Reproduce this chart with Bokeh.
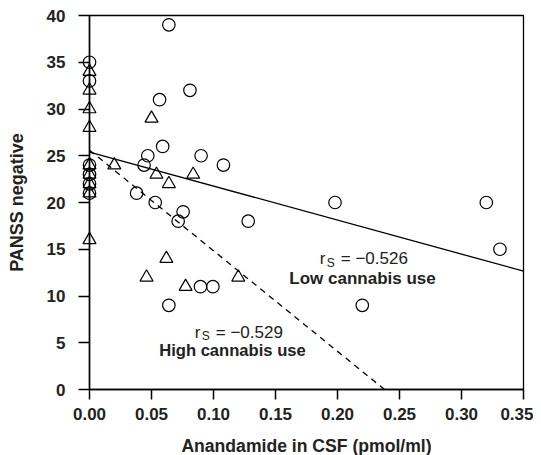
from bokeh.plotting import figure
from bokeh.models import FixedTicker, Label
from bokeh.embed import file_html
from bokeh.resources import INLINE

# Low cannabis use (circles)
low_x = [0.0, 0.0, 0.0, 0.0, 0.0, 0.0,
         0.064, 0.0565, 0.081, 0.059, 0.047, 0.044, 0.090, 0.108,
         0.038, 0.053, 0.0755, 0.0715, 0.128, 0.198, 0.320, 0.331,
         0.220, 0.064, 0.0895, 0.0995]
low_y = [35, 33, 24, 23, 22, 21,
         39, 31, 32, 26, 25, 24, 25, 24,
         21, 20, 19, 18, 18, 20, 20, 15,
         9, 9, 11, 11]

# High cannabis use (triangles)
high_x = [0.0, 0.0, 0.0, 0.0, 0.0, 0.0, 0.0, 0.0, 0.0,
          0.050, 0.020, 0.054, 0.064, 0.0836, 0.062, 0.046, 0.0775, 0.120]
high_y = [34, 32, 30, 28, 24, 23, 22, 21, 16,
          29, 24, 23, 22, 23, 14, 12, 11, 12]

# Regression fits (intercept, slope)
low_fit = (25.4, -36.4)
high_fit = (25.6, -107.6)
low_fit_x = [0.0, 0.35]
high_fit_x = [0.0, 0.238]

x_ticks = [0.0, 0.05, 0.10, 0.15, 0.20, 0.25, 0.30, 0.35]
x_tick_labels = ["0.00", "0.05", "0.10", "0.15", "0.20", "0.25", "0.30", "0.35"]
y_ticks = [0, 5, 10, 15, 20, 25, 30, 35, 40]

FONT = "Liberation Sans"

p = figure(frame_width=434, frame_height=374,
           x_range=(0, 0.35), y_range=(0, 40),
           output_backend="svg", toolbar_location=None,
           min_border_left=89, min_border_right=10,
           min_border_top=15, min_border_bottom=58)
p.background_fill_color = "white"
p.border_fill_color = "white"
p.grid.visible = False
p.outline_line_color = "black"
p.outline_line_width = 1.3

for ax in (p.xaxis[0], p.yaxis[0]):
    ax.axis_line_width = 1.5
    ax.major_tick_line_width = 1.5
    ax.minor_tick_line_color = None
    ax.major_tick_in = 0
    ax.major_label_text_font = FONT
    ax.major_label_text_font_style = "bold"
    ax.major_label_text_font_size = "17px"
    ax.major_label_text_color = "#222222"
    ax.axis_label_text_font = FONT
    ax.axis_label_text_font_style = "bold"
    ax.axis_label_text_font_size = "17.6px"
    ax.axis_label_text_color = "#222222"

p.xaxis.ticker = FixedTicker(ticks=x_ticks)
p.xaxis.major_label_overrides = {t: l for t, l in zip(x_ticks, x_tick_labels)}
p.xaxis.major_tick_out = 10
p.xaxis.major_label_standoff = 8
p.xaxis.axis_label = "Anandamide in CSF (pmol/ml)"
p.xaxis.axis_label_standoff = 13

p.yaxis.ticker = FixedTicker(ticks=y_ticks)
p.yaxis.major_tick_out = 11
p.yaxis.major_label_standoff = 13
p.yaxis.axis_label = "PANSS negative"
p.yaxis.axis_label_text_font_size = "18px"
p.yaxis.axis_label_standoff = 17

# fit lines
ly = [low_fit[0] + low_fit[1] * x for x in low_fit_x]
hy = [high_fit[0] + high_fit[1] * x for x in high_fit_x]
p.line(low_fit_x, ly, line_color="black", line_width=1.3)
p.line(high_fit_x, hy, line_color="black", line_width=1.3, line_dash="6 5")

rc = p.scatter(low_x, low_y, marker="circle", size=12.5, fill_color=None,
               line_color="black", line_width=1.2)
rt = p.scatter(high_x, high_y, marker="triangle", size=13, fill_color=None,
               line_color="black", line_width=1.2)
rc.level = "overlay"
rt.level = "overlay"

def rs_label(x, y, val):
    p.add_layout(Label(x=x, y=y, text="r", text_font=FONT, text_font_size="17px",
                       text_baseline="alphabetic", text_color="#222222"))
    p.add_layout(Label(x=x, y=y, x_offset=7, y_offset=-4, text="S", text_font=FONT,
                       text_font_size="12px", text_baseline="alphabetic", text_color="#222222"))
    p.add_layout(Label(x=x, y=y, x_offset=21, text="= \u2212" + val, text_font=FONT,
                       text_font_size="17px", text_baseline="alphabetic", text_color="#222222"))

def group_label(x, y, txt, size):
    p.add_layout(Label(x=x, y=y, text=txt, text_font=FONT, text_font_size=size,
                       text_font_style="bold", text_align="center",
                       text_baseline="alphabetic", text_color="#222222"))

rs_label(0.1857, 13.98, "0.526")
group_label(0.2202, 11.84, "Low cannabis use", "17px")
rs_label(0.0849, 6.13, "0.529")
group_label(0.1153, 4.17, "High cannabis use", "16.6px")

open("out.html", "w").write(file_html(p, INLINE))
